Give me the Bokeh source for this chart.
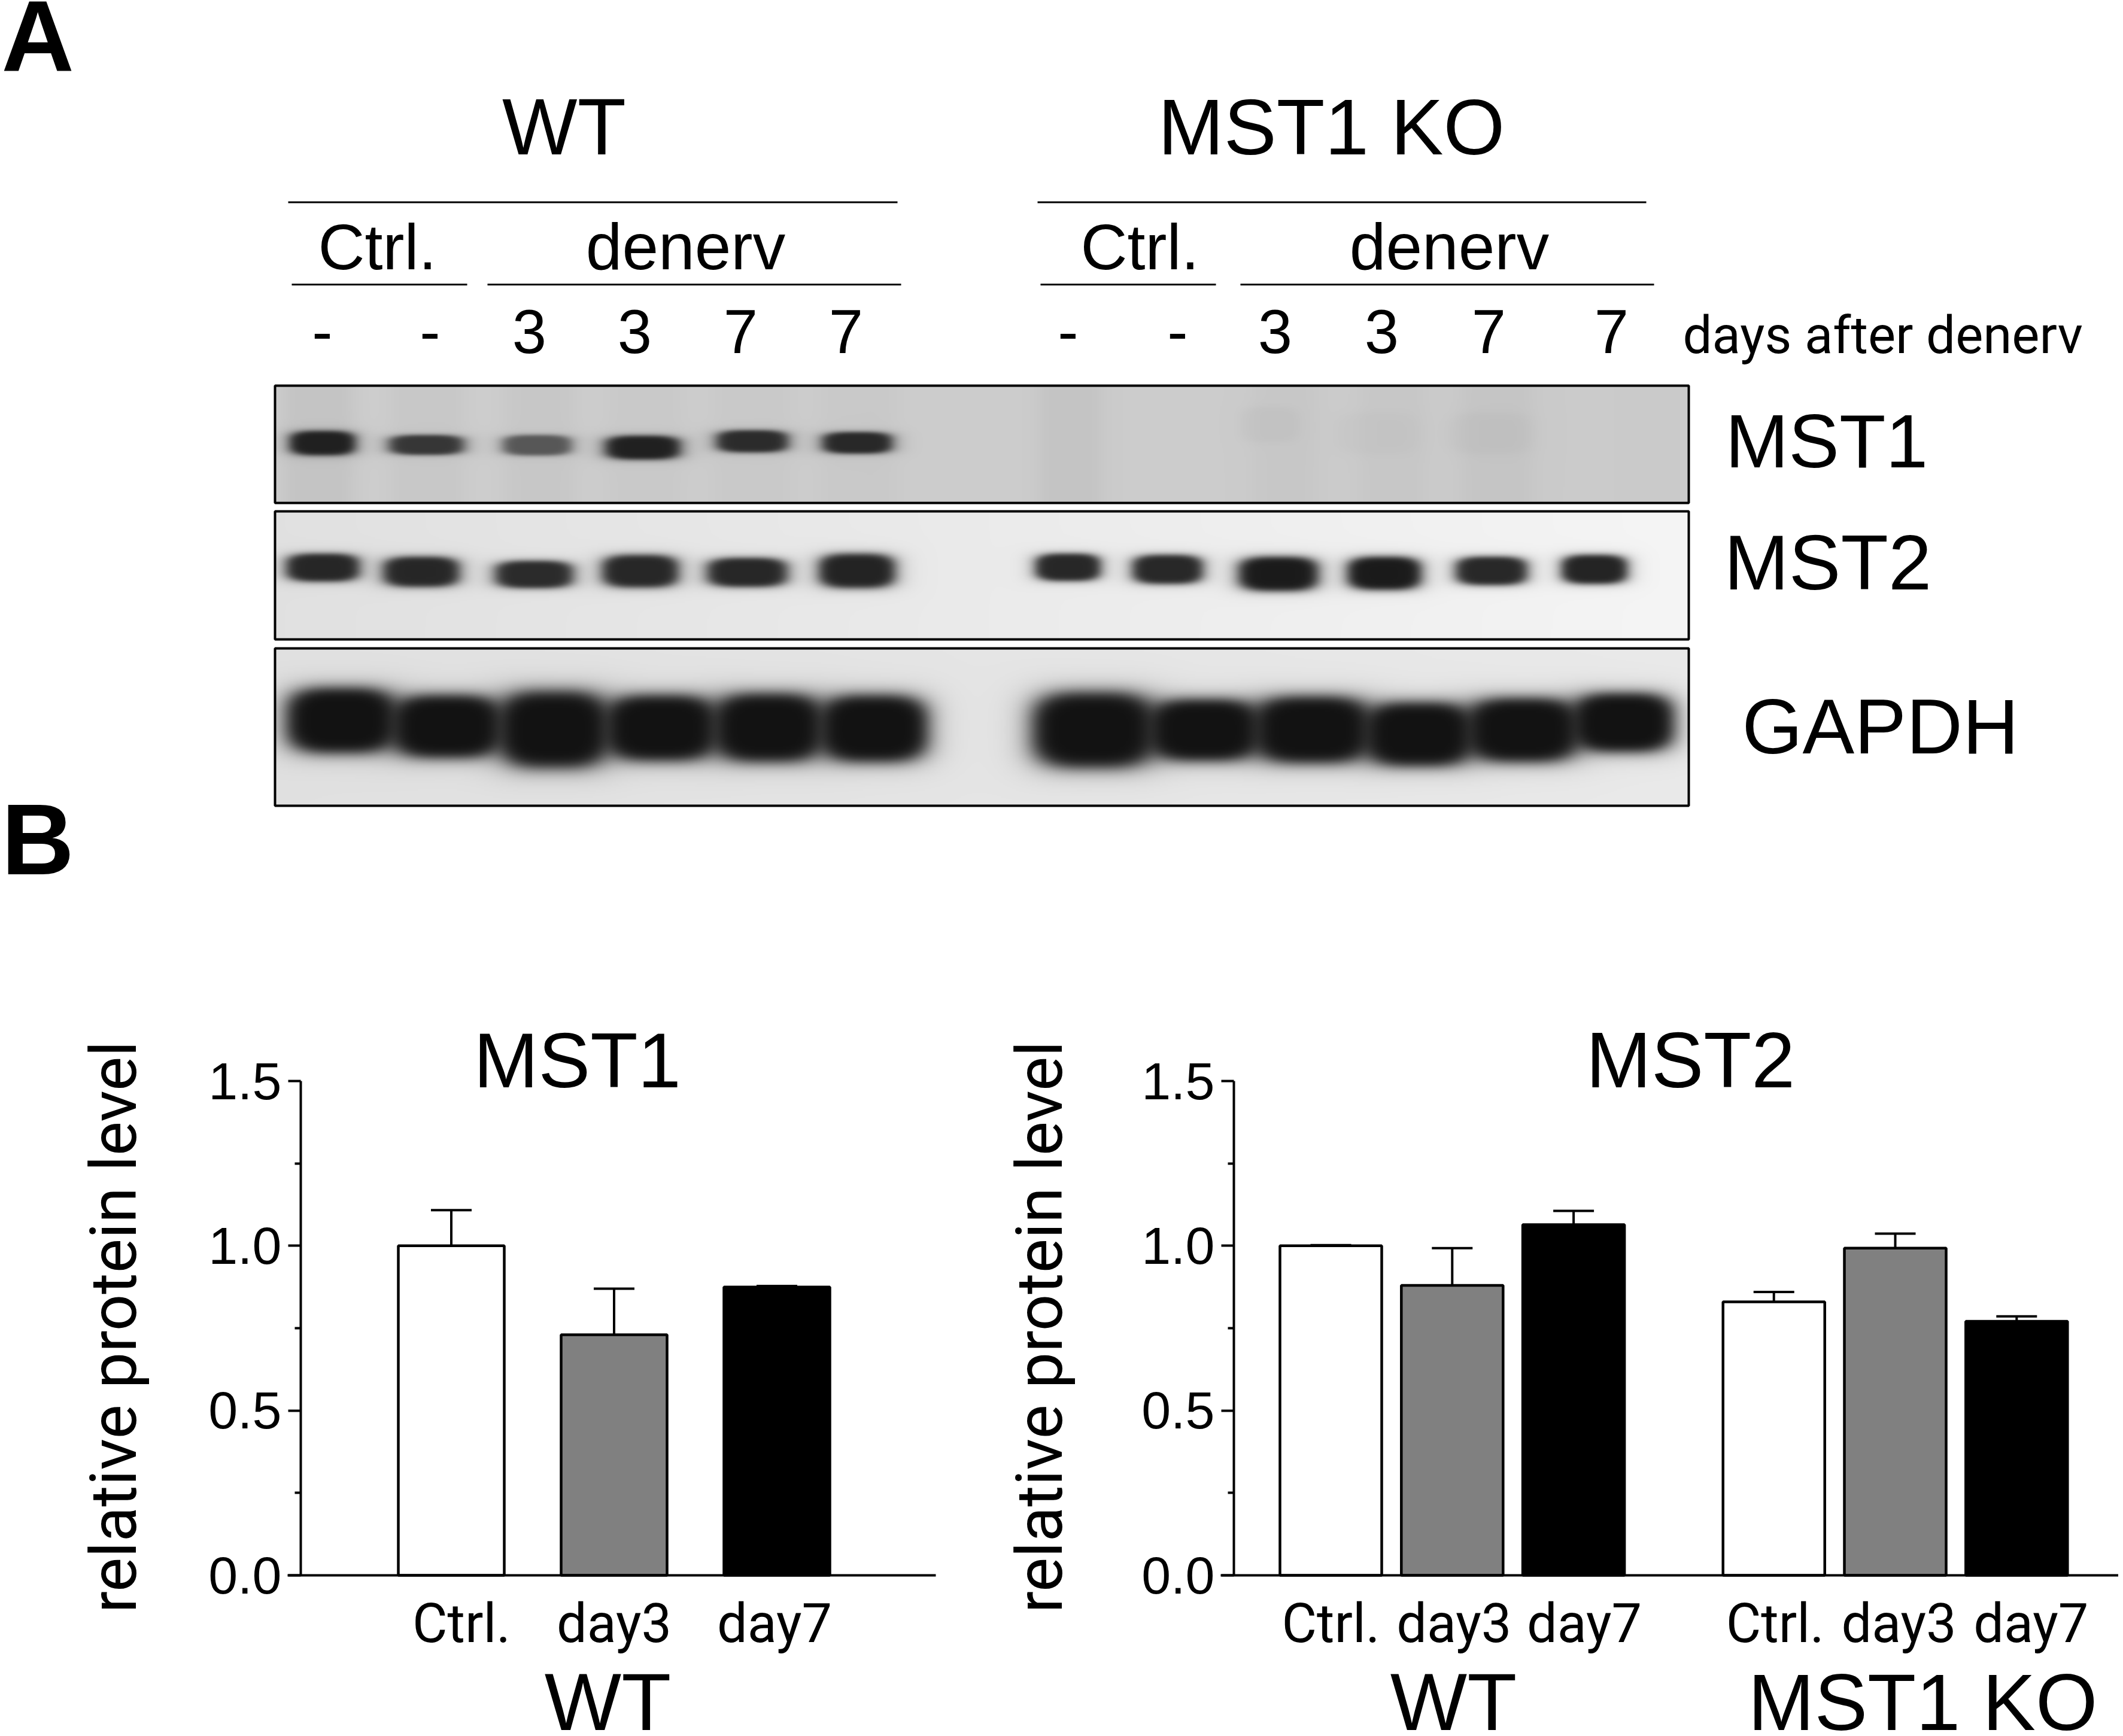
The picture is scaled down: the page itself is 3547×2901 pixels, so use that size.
import math
import numpy as np
from bokeh.core.properties import value
from bokeh.embed import file_html
from bokeh.layouts import column, row
from bokeh.models import FixedTicker, LinearColorMapper, Range1d
from bokeh.plotting import figure
from bokeh.resources import INLINE

# ---------- chart values ----------
mst1_labels = ["Ctrl.", "day3", "day7"]
mst1_values = [1.00, 0.73, 0.875]
mst1_upper = [1.108, 0.870, 0.878]
mst1_fills = ["#ffffff", "#808080", "#000000"]

mst2_labels = ["Ctrl.", "day3", "day7", "Ctrl.", "day3", "day7"]
mst2_values = [1.00, 0.88, 1.064, 0.83, 0.993, 0.771]
mst2_upper = [1.002, 0.993, 1.106, 0.860, 1.037, 0.786]
mst2_fills = ["#ffffff", "#808080", "#000000", "#ffffff", "#808080", "#000000"]

y_major = [0.0, 0.5, 1.0, 1.5]
y_minor = [0.25, 0.75, 1.25]

# ---------- blot description: lanes of the gel photograph (x0, x1, y0, y1, density) ----------
blot_mst1 = [(481, 594, 720, 762, .92), (647, 775, 727, 761, .80), (837, 955, 727, 762, .62),
             (1008, 1137, 728, 769, .92), (1194, 1317, 719, 757, .86), (1371, 1491, 722, 759, .88),
             (2070, 2170, 680, 740, .03), (2230, 2370, 690, 760, .02), (2420, 2560, 690, 760, .03)]
blot_mst1_streaks = [(470, 590, .05), (650, 775, .03), (840, 960, .03), (1010, 1140, .02), (1190, 1320, .02),
                     (1370, 1495, .02), (1733, 1840, .04), (2090, 2200, .02), (2270, 2380, .02), (2440, 2560, .03)]
blot_mst2 = [(475, 601, 925, 973, .90), (637, 768, 930, 982, .90), (824, 958, 937, 984, .88),
             (1003, 1134, 927, 983, .90), (1178, 1316, 932, 982, .90), (1365, 1496, 925, 984, .92),
             (1727, 1839, 925, 972, .90), (1889, 2010, 927, 977, .90), (2066, 2203, 930, 989, .96),
             (2248, 2375, 930, 987, .96), (2429, 2552, 930, 979, .90), (2606, 2719, 927, 977, .92)]
blot_gapdh = [(474, 664, 1147, 1261, 1), (650, 841, 1159, 1269, 1), (829, 1018, 1152, 1286, 1),
              (1006, 1200, 1159, 1274, 1), (1188, 1377, 1156, 1276, 1), (1365, 1552, 1159, 1276, 1),
              (1720, 1931, 1154, 1286, 1), (1915, 2106, 1166, 1274, 1), (2090, 2292, 1161, 1278, 1),
              (2276, 2462, 1171, 1283, 1), (2446, 2640, 1164, 1276, 1), (2624, 2798, 1156, 1259, 1)]

SANS = value("Liberation Sans")
CONDENSED = value("Roboto")
BASE_K = 0.355   # the SVG text baseline sits this many em lower than asked

# ---------- panel A ----------
FRAME_L, FRAME_R = 459, 2821
panels = [(644, 840, 206, 202, blot_mst1, blot_mst1_streaks),
          (854, 1068, 224, 244, blot_mst2, []),
          (1083, 1346, 224, 233, blot_gapdh, [])]

pa = figure(width=3539, height=1600, x_range=Range1d(0, 3539), y_range=Range1d(-1600, 0),
            x_axis_location=None, y_axis_location=None, toolbar_location=None,
            output_backend="svg", min_border=0, outline_line_color=None)
pa.grid.visible = False
grey_palette = ["#%02x%02x%02x" % (i, i, i) for i in range(256)]
mapper = LinearColorMapper(palette=grey_palette, low=0, high=255)

for top, bottom, bg0, bg1, bands, streaks in panels:
    xs = np.arange(FRAME_L, FRAME_R, 2.0)
    ys = np.arange(bottom, top, -2.0)      # first row is the bottom one
    X, Y = np.meshgrid(xs, ys)
    img = bg0 + (bg1 - bg0) * (X - FRAME_L) / (FRAME_R - FRAME_L)
    for x0, x1, d in streaks:
        img = img * (1 - d / (1 + (np.abs(X - (x0 + x1) / 2) / ((x1 - x0) / 2)) ** 6))
    for x0, x1, y0, y1, d in bands:
        cx, cy, rx, ry = (x0 + x1) / 2, (y0 + y1) / 2, (x1 - x0) / 2, (y1 - y0) / 2
        q = (np.abs(X - cx) / rx) ** 3.2 + (np.abs(Y - cy) / ry) ** 3.2
        a = d / (1 + q ** 2.8)
        img = img * (1 - a) + 18 * a
    pa.image(image=[img], x=FRAME_L, y=-bottom, dw=FRAME_R - FRAME_L, dh=bottom - top, color_mapper=mapper)
    pa.quad(left=FRAME_L, right=FRAME_R, top=-top, bottom=-bottom, fill_color=None,
            line_color="#000000", line_width=4)

# group rules
rule_x0 = [481, 1733, 487, 814, 1738, 2072]
rule_x1 = [1499, 2750, 780, 1505, 2031, 2763]
rule_y = [337.5, 337.5, 475, 475, 475, 475]
pa.segment(x0=rule_x0, x1=rule_x1, y0=[-v for v in rule_y], y1=[-v for v in rule_y],
           line_color="#000000", line_width=3)


def words(x, y, t, size, font=SANS, align="center", style="normal"):
    pa.text(x=[x], y=[-(y - BASE_K * size)], text=[t], text_font=font, text_font_size=f"{size}px",
            text_align=align, text_baseline="alphabetic", text_color="#000000", text_font_style=style)


words(2, 120, "A", 168, align="left", style="bold")
words(2, 1462, "B", 168, align="left", style="bold")
words(942, 259, "WT", 133)
words(2224, 259, "MST1 KO", 132)
words(630, 450, "Ctrl.", 108)
words(1145, 450, "denerv", 109)
words(1904, 450, "Ctrl.", 108)
words(2421, 450, "denerv", 109)
for cx, t in zip([538, 718, 884, 1060, 1237, 1413, 1784, 1967, 2130, 2308, 2487, 2692],
                 ["-", "-", "3", "3", "7", "7", "-", "-", "3", "3", "7", "7"]):
    words(cx, 590, t, 103)
words(2811, 590, "days after denerv", 87, font=CONDENSED, align="left")
words(2882, 782, "MST1", 127, align="left")
words(2880, 986, "MST2", 130, align="left")
words(2910, 1260, "GAPDH", 130, align="left")

# ---------- panel B ----------
Y0_PX, Y15_PX = 2632, 1806
PER_PX = 1.5 / (Y0_PX - Y15_PX)
TOP_PX, BOTTOM_PX = 1600, 2893


def bar_chart(x_left_px, x_right_px, axis_px, axis_end_px, first_bar_px, unit, xs, labels, shifts,
              values, upper, fills, bar_w_px, label_base_px, title, title_px, title_size, groups):
    to_x = lambda px: (px - first_bar_px) / unit
    to_y = lambda py: (Y0_PX - py) * PER_PX
    p = figure(width=x_right_px - x_left_px, height=BOTTOM_PX - TOP_PX,
               x_range=Range1d(to_x(x_left_px), to_x(x_right_px)),
               y_range=Range1d(to_y(BOTTOM_PX), to_y(TOP_PX)),
               toolbar_location=None, output_backend="svg", outline_line_color=None, min_border=0)
    p.grid.visible = False
    p.vbar(x=xs, top=values, width=bar_w_px / unit, bottom=0, fill_color=fills, line_color="#000000",
           line_width=4.5)
    p.segment(x0=xs, x1=xs, y0=values, y1=upper, line_color="#000000", line_width=4)
    cap = 68 / unit
    p.segment(x0=[x - cap / 2 for x in xs], x1=[x + cap / 2 for x in xs], y0=upper, y1=upper,
              line_color="#000000", line_width=4)

    ya = p.yaxis[0]
    ya.fixed_location = to_x(axis_px)
    ya.bounds = (0, 1.5)
    ya.ticker = FixedTicker(ticks=y_major, minor_ticks=y_minor)
    ya.major_label_overrides = {v: f"{v:.1f}" for v in y_major}
    ya.major_tick_out, ya.major_tick_in = 21, 0
    ya.minor_tick_out, ya.minor_tick_in = 10, 0
    ya.axis_line_width = ya.major_tick_line_width = ya.minor_tick_line_width = 4
    ya.axis_line_color = ya.major_tick_line_color = ya.minor_tick_line_color = "#000000"
    ya.major_label_text_font = "Liberation Sans"
    ya.major_label_text_font_size = "88px"
    ya.major_label_text_color = "#000000"
    ya.major_label_standoff = 11

    label_pos = [x + s / unit for x, s in zip(xs, shifts)]
    xa = p.xaxis[0]
    xa.fixed_location = 0
    xa.bounds = (to_x(axis_px - 22), to_x(axis_end_px))
    xa.ticker = FixedTicker(ticks=label_pos)
    xa.major_label_overrides = dict(zip(label_pos, labels))
    xa.major_tick_line_color = None
    xa.minor_tick_line_color = None
    xa.axis_line_width = 4
    xa.axis_line_color = "#000000"
    xa.major_label_text_font = "Roboto"
    xa.major_label_text_font_size = "90px"
    xa.major_label_text_color = "#000000"
    xa.major_label_standoff = 22

    p.text(x=[to_x(label_base_px - 44)], y=[to_y(2217)], text=["relative protein level"],
           angle=math.pi / 2, text_font=CONDENSED, text_font_size="108px", text_align="center",
           text_baseline="alphabetic", text_color="#000000")
    p.text(x=[to_x(title_px)], y=[to_y(1818 - BASE_K * title_size)], text=[title], text_font=SANS,
           text_font_size=f"{title_size}px", text_align="center", text_baseline="alphabetic",
           text_color="#000000")
    for gx, gt, gs in groups:
        p.text(x=[to_x(gx)], y=[to_y(2892 - BASE_K * gs)], text=[gt], text_font=SANS,
               text_font_size=f"{gs}px", text_align="center", text_baseline="alphabetic",
               text_color="#000000")
    return p


x_mst1 = list(range(len(mst1_values)))
left = bar_chart(0, 1600, 502, 1563, 753.5, 272, x_mst1, mst1_labels, [17, 0, -4],
                 mst1_values, mst1_upper, mst1_fills, 177, 233, "MST1", 964, 130, [(1015, "WT", 136)])

x_mst2 = [i + (0.65 if i >= 3 else 0) for i in range(len(mst2_values))]
right = bar_chart(1600, 3539, 2061, 3539, 2223, 202.8, x_mst2, mst2_labels, [0, 3, 18, 2, 6, 24],
                  mst2_values, mst2_upper, mst2_fills, 170, 1780, "MST2", 2824, 131,
                  [(2428, "WT", 136), (3212, "MST1 KO", 133)])

page = column(pa, row(left, right, spacing=0), spacing=0)
open("out.html", "w").write(file_html(page, INLINE))
